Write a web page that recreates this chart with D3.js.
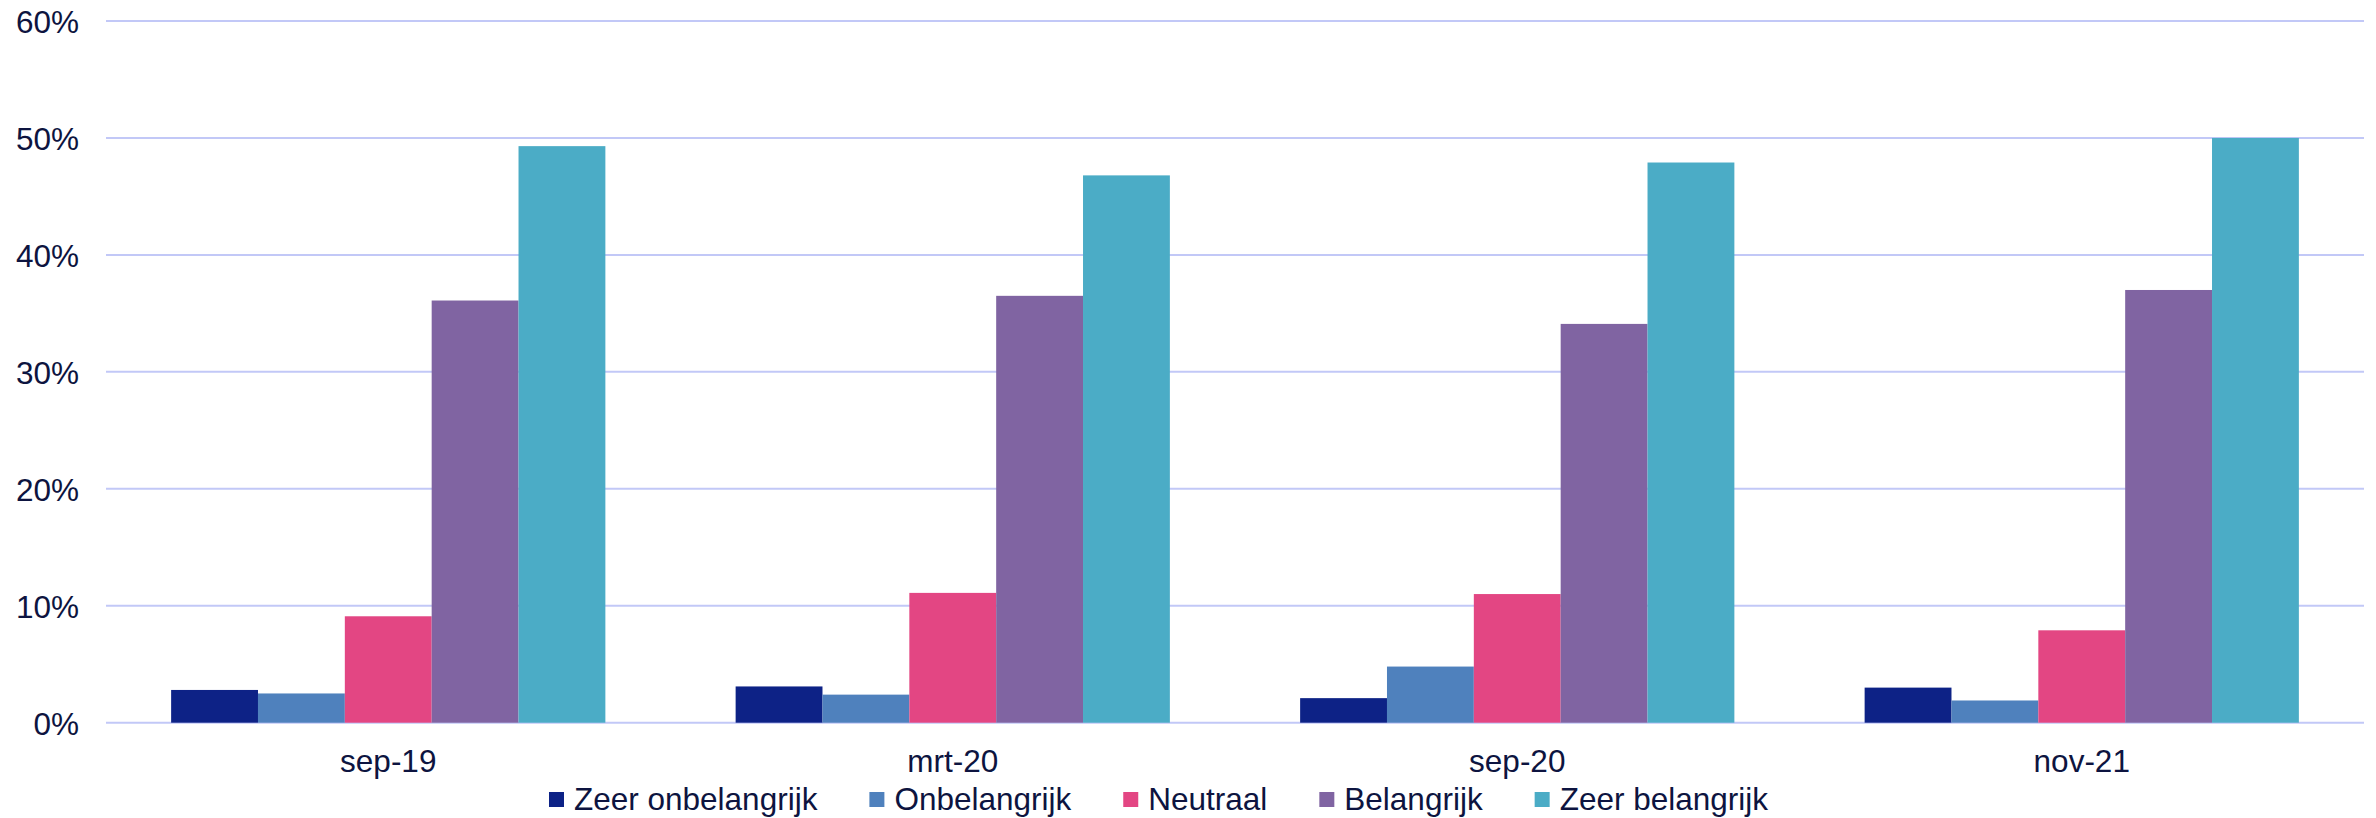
<!DOCTYPE html>
<html>
<head>
<meta charset="utf-8">
<script src="https://cdn.jsdelivr.net/npm/d3@7"></script>
<style>
  html, body { margin: 0; padding: 0; background: #ffffff; }
  svg { display: block; }
  text { font-family: "Liberation Sans", Arial, sans-serif; fill: #0d1440; }
</style>
</head>
<body>
<svg id="chart" width="2376" height="818"></svg>
<script>
const categories = ["sep-19", "mrt-20", "sep-20", "nov-21"];
const seriesNames = ["Zeer onbelangrijk", "Onbelangrijk", "Neutraal", "Belangrijk", "Zeer belangrijk"];
const zeerOnbelangrijk = [0.028, 0.031, 0.021, 0.030];
const onbelangrijk     = [0.025, 0.024, 0.048, 0.019];
const neutraal         = [0.091, 0.111, 0.110, 0.079];
const belangrijk       = [0.361, 0.365, 0.341, 0.370];
const zeerBelangrijk   = [0.493, 0.468, 0.479, 0.500];
const yTicks = [0, 0.1, 0.2, 0.3, 0.4, 0.5, 0.6];
const colors = ["#0d2286", "#4f81bd", "#e34683", "#8064a2", "#4bacc6"];

const seriesValues = [zeerOnbelangrijk, onbelangrijk, neutraal, belangrijk, zeerBelangrijk];

const svg = d3.select("#chart");
const plotLeft = 106, plotRight = 2364, plotTop = 21, plotBottom = 722.7;
const fontSize = 31.5;

const x0 = d3.scaleBand().domain(categories).range([plotLeft, plotRight]).padding(0);
const x1 = d3.scaleBand().domain(seriesNames).range([0, x0.bandwidth()])
  .paddingInner(0).paddingOuter(0.75);
const y = d3.scaleLinear().domain([0, 0.6]).range([plotBottom, plotTop]);

// gridlines
svg.append("g").selectAll("line").data(yTicks).join("line")
  .attr("x1", plotLeft).attr("x2", plotRight)
  .attr("y1", d => y(d)).attr("y2", d => y(d))
  .attr("stroke", "#c2c8f7").attr("stroke-width", 2);

// y axis labels
const yAxis = d3.axisLeft(y).tickValues(yTicks).tickFormat(d3.format(".0%")).tickSize(0).tickPadding(0);
const yg = svg.append("g").attr("transform", "translate(79,0)").call(yAxis);
yg.select(".domain").remove();
yg.attr("font-family", null).attr("font-size", null);
yg.selectAll("text").attr("font-size", fontSize)
  .attr("fill", "#0d1440").attr("dy", "0.36em");

// bars
const groups = svg.append("g").selectAll("g").data(categories).join("g")
  .attr("transform", c => `translate(${x0(c)},0)`);
groups.selectAll("rect")
  .data((c, ci) => seriesNames.map((s, si) => ({ s, si, v: seriesValues[si][ci] })))
  .join("rect")
  .attr("x", d => x1(d.s))
  .attr("width", x1.bandwidth())
  .attr("y", d => y(d.v))
  .attr("height", d => y(0) - y(d.v))
  .attr("fill", d => colors[d.si]);

// x axis labels
const xAxis = d3.axisBottom(x0).tickSize(0).tickPadding(0);
const xg = svg.append("g").attr("transform", "translate(0,772)").call(xAxis);
xg.select(".domain").remove();
xg.attr("font-family", null).attr("font-size", null);
xg.selectAll("text").attr("font-size", fontSize)
  .attr("fill", "#0d1440").attr("dy", 0);

// legend
const legend = svg.append("g");
let lx = 549;
seriesNames.forEach((name, i) => {
  legend.append("rect").attr("x", lx).attr("y", 792).attr("width", 15).attr("height", 15)
    .attr("fill", colors[i]);
  const t = legend.append("text").attr("x", lx + 25).attr("y", 810)
    .attr("font-size", fontSize).text(name);
  lx += 25 + t.node().getComputedTextLength() + 52;
});
</script>
</body>
</html>
